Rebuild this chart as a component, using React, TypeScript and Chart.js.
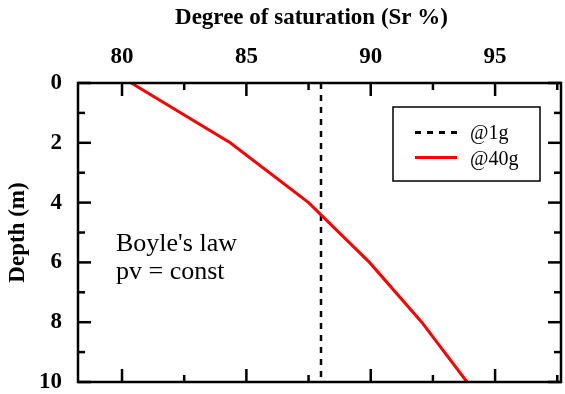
import { useEffect, useRef } from "react";
import { Chart, registerables } from "chart.js";

Chart.register(...registerables);

// Degree of saturation profile with depth
const DEPTH_40G = [0, 2, 4, 6, 8, 10];
const SR_40G = [80.37, 84.35, 87.5, 89.95, 92.05, 93.87];
const DEPTH_1G = [0, 10];
const SR_1G = [88, 88];

const X_MAJOR = [80, 85, 90, 95];
const X_MINOR = [82.5, 87.5, 92.5, 97.5];
const Y_MAJOR = [0, 2, 4, 6, 8, 10];
const Y_MINOR = [1, 3, 5, 7, 9];

const X_TITLE = "Degree of saturation (Sr %)";
const Y_TITLE = "Depth (m)";
const LEGEND_LABELS = ["@1g", "@40g"];
const NOTE_LINES = ["Boyle's law", "pv = const"];

const SERIF = "'Liberation Serif', 'Times New Roman', serif";
const DASH = [6, 6];

const framePlugin = {
  id: "frameAndNotes",
  afterDatasetsDraw(chart: any) {
    const { ctx, chartArea: a, scales } = chart;
    const xs = scales.x;
    const ys = scales.y;
    ctx.save();
    ctx.strokeStyle = "#000";
    ctx.lineWidth = 2.5;
    ctx.lineCap = "butt";

    const seg = (x1: number, y1: number, x2: number, y2: number) => {
      ctx.beginPath();
      ctx.moveTo(x1, y1);
      ctx.lineTo(x2, y2);
      ctx.stroke();
    };

    // inward ticks on all four sides
    const xTicks = (vals: number[], len: number) =>
      vals.forEach((v) => {
        const px = xs.getPixelForValue(v);
        seg(px, a.top, px, a.top + len);
        seg(px, a.bottom, px, a.bottom - len);
      });
    const yTicks = (vals: number[], len: number) =>
      vals.forEach((v) => {
        const py = ys.getPixelForValue(v);
        seg(a.left, py, a.left + len, py);
        seg(a.right, py, a.right - len, py);
      });
    xTicks(X_MAJOR, 13);
    xTicks(X_MINOR, 7);
    yTicks(Y_MAJOR, 13);
    yTicks(Y_MINOR, 7);

    ctx.strokeRect(a.left, a.top, a.right - a.left, a.bottom - a.top);

    // legend box
    const bw = 147;
    const bh = 74;
    const bx = a.right - 21 - bw;
    const by = a.top + 24;
    ctx.lineWidth = 1.5;
    ctx.strokeRect(bx, by, bw, bh);

    ctx.lineWidth = 3;
    ctx.setLineDash(DASH);
    seg(bx + 22, by + 25.5, bx + 64, by + 25.5);
    ctx.setLineDash([]);
    ctx.strokeStyle = "#ff0000";
    seg(bx + 22, by + 50.5, bx + 64, by + 50.5);

    ctx.fillStyle = "#000";
    ctx.textAlign = "left";
    ctx.textBaseline = "alphabetic";
    ctx.font = `20px ${SERIF}`;
    ctx.fillText(LEGEND_LABELS[0], bx + 77, by + 32);
    ctx.fillText(LEGEND_LABELS[1], bx + 77, by + 57.7);

    // annotation
    ctx.font = `26px ${SERIF}`;
    ctx.fillText(NOTE_LINES[0], a.left + 38, 250.7);
    ctx.fillText(NOTE_LINES[1], a.left + 38, 279);

    // top axis title
    ctx.font = `bold 23px ${SERIF}`;
    ctx.textAlign = "center";
    ctx.fillText(X_TITLE, 311.5, 24);

    ctx.restore();
  },
};

export default function App() {
  const ref = useRef<HTMLCanvasElement>(null);

  useEffect(() => {
    const canvas = ref.current;
    if (!canvas) return;
    const tickFont = { family: SERIF, size: 23, weight: "bold" as const };

    const chart = new Chart(canvas, {
      type: "scatter",
      data: {
        datasets: [
          {
            label: LEGEND_LABELS[1],
            data: DEPTH_40G.map((d, i) => ({ x: SR_40G[i], y: d })),
            showLine: true,
            borderColor: "#ff0000",
            borderWidth: 3,
            pointRadius: 0,
            tension: 0,
          },
          {
            label: LEGEND_LABELS[0],
            data: DEPTH_1G.map((d, i) => ({ x: SR_1G[i], y: d })),
            showLine: true,
            borderColor: "#000000",
            borderWidth: 2.5,
            borderDash: DASH,
            pointRadius: 0,
          },
        ],
      },
      options: {
        animation: false,
        responsive: false,
        maintainAspectRatio: false,
        layout: { padding: { left: 0, top: 0, right: 4, bottom: 12 } },
        plugins: {
          legend: { display: false },
          tooltip: { enabled: false },
        },
        scales: {
          x: {
            type: "linear",
            position: "top",
            min: 78.23,
            max: 97.65,
            afterBuildTicks: (s: any) => {
              s.ticks = X_MAJOR.map((v) => ({ value: v }));
            },
            afterFit: (s: any) => {
              s.height = 83;
              s.paddingLeft = 0;
              s.paddingRight = 0;
            },
            grid: { display: false, drawTicks: false },
            border: { display: false },
            ticks: { font: tickFont, color: "#000", padding: 12, maxRotation: 0 },
          },
          y: {
            type: "linear",
            reverse: true,
            min: 0,
            max: 10,
            afterBuildTicks: (s: any) => {
              s.ticks = Y_MAJOR.map((v) => ({ value: v }));
            },
            afterFit: (s: any) => {
              s.width = 78;
              s.paddingTop = 0;
              s.paddingBottom = 0;
            },
            grid: { display: false, drawTicks: false },
            border: { display: false },
            ticks: { font: tickFont, color: "#000", padding: 16 },
            title: {
              display: true,
              text: Y_TITLE,
              color: "#000",
              font: { family: SERIF, size: 23, weight: "bold" },
              padding: { top: 4, bottom: 0 },
            },
          },
        },
      },
      plugins: [framePlugin],
    });

    return () => chart.destroy();
  }, []);

  return (
    <div style={{ position: "absolute", left: 0, top: 0, width: 565, height: 394, background: "#fff" }}>
      <canvas ref={ref} width={565} height={394} style={{ display: "block" }} />
    </div>
  );
}
